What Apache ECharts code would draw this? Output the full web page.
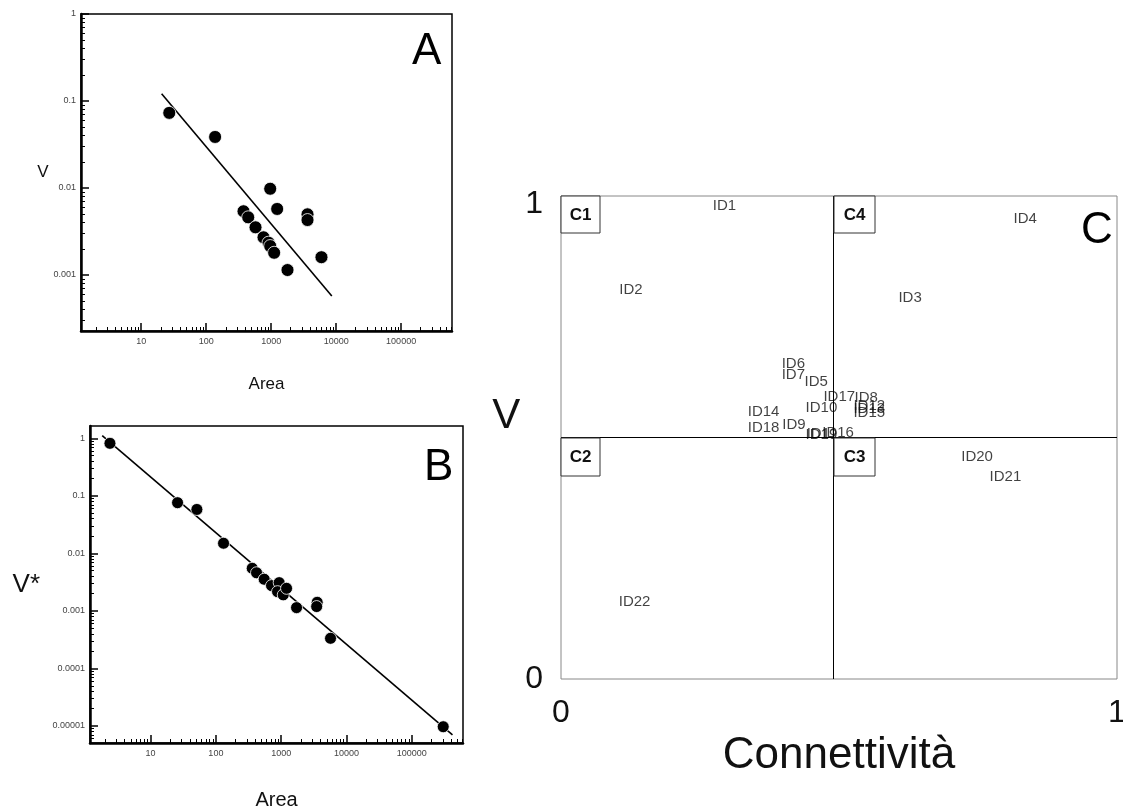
<!DOCTYPE html>
<html>
<head>
<meta charset="utf-8">
<script src="https://cdn.jsdelivr.net/npm/echarts@6/dist/echarts.min.js"></script>
<style>
html, body { margin: 0; padding: 0; background: #fff; }
#main { width: 1123px; height: 812px; }
</style>
</head>
<body>
<div id="main"></div>
<script>
// pannello A: V contro Area (log-log)
const areaA = [27, 137, 966, 1236, 3623, 3623, 375, 443, 574, 762, 910, 966, 1111, 1783, 5940];
const vA = [0.073, 0.0386, 0.0098, 0.00574, 0.00498, 0.00428, 0.0054, 0.0046, 0.00353, 0.00271, 0.00235, 0.00215, 0.0018, 0.00114, 0.0016];
const fitAreaA = [20.6, 8570];
const fitVA = [0.121, 0.000574];

// pannello B: V* contro Area
const areaB = [2.39, 25.9, 51.2, 131, 360, 419, 549, 711, 931, 879, 1074, 1208, 1718, 3556, 3490, 5690, 302000];
const vB = [0.818, 0.076, 0.058, 0.015, 0.0055, 0.0046, 0.00355, 0.00275, 0.0031, 0.00216, 0.0019, 0.00247, 0.00114, 0.00141, 0.00119, 0.000334, 0.0000097];
const fitAreaB = [1.82, 419000];
const fitVB = [1.11, 0.00000698];

// pannello C: V contro Connettività
const idNames = ['ID1', 'ID2', 'ID3', 'ID4', 'ID5', 'ID6', 'ID7', 'ID8', 'ID9', 'ID10', 'ID11',
  'ID12', 'ID13', 'ID14', 'ID15', 'ID16', 'ID17', 'ID18', 'ID19', 'ID20', 'ID21', 'ID22'];
const connettivita = [0.272, 0.104, 0.606, 0.813, 0.437, 0.396, 0.396, 0.527, 0.397, 0.439, 0.441,
  0.525, 0.525, 0.335, 0.525, 0.469, 0.471, 0.335, 0.439, 0.719, 0.770, 0.103];
const vC = [0.979, 0.805, 0.789, 0.952, 0.615, 0.652, 0.629, 0.582, 0.526, 0.561, 0.507,
  0.565, 0.559, 0.553, 0.551, 0.509, 0.584, 0.520, 0.505, 0.460, 0.418, 0.159];
// soglie dei quadranti
const sogliaConn = 0.491;
const sogliaV = 0.5;

// estremi degli assi (in log10)
const xLogRange = [0.073, 5.783];
const yLogRangeA = [-3.644, 0];
const yLogRangeB = [-5.296, 0.214];

const chartDom = document.getElementById('main');
const myChart = echarts.init(chartDom, null, { renderer: 'canvas' });

const font = 'Liberation Sans';

// tacche minori 2..9 per ogni decade
function minorTicks(range) {
  const out = [];
  for (let d = Math.floor(range[0]); d <= Math.ceil(range[1]); d++) {
    for (let k = 2; k <= 9; k++) {
      const v = d + Math.log10(k);
      if (v > range[0] && v < range[1]) out.push(v);
    }
  }
  return out;
}

function fmt(v) {
  return String(Number(v.toPrecision(3)));
}

function logAxis(gridIndex, range, name, nameGap, nameSize, isY, showMax) {
  return {
    type: 'log',
    logBase: 10,
    gridIndex: gridIndex,
    position: isY ? 'left' : 'bottom',
    min: Math.pow(10, range[0]),
    max: Math.pow(10, range[1]),
    name: name,
    nameLocation: 'middle',
    nameRotate: 0,
    nameGap: nameGap,
    nameTextStyle: { fontFamily: font, fontSize: nameSize, color: '#111' },
    axisLine: { show: true, onZero: false, lineStyle: { color: '#000', width: 2.5 } },
    axisTick: { show: true, inside: true, length: 8, lineStyle: { color: '#000', width: 1.5 } },
    minorTick: { show: false },
    splitLine: { show: false },
    axisLabel: {
      show: true,
      fontFamily: font,
      fontSize: 9,
      color: '#444',
      margin: isY ? 5 : 6,
      showMinLabel: false,
      showMaxLabel: showMax,
      formatter: fmt
    }
  };
}

function minorAxis(gridIndex, range, isY) {
  return {
    type: 'value',
    gridIndex: gridIndex,
    position: isY ? 'left' : 'bottom',
    min: range[0],
    max: range[1],
    axisLine: { show: false, onZero: false },
    axisLabel: { show: false },
    splitLine: { show: false },
    axisTick: {
      show: true,
      inside: true,
      length: 4,
      customValues: minorTicks(range),
      lineStyle: { color: '#000', width: 1 }
    }
  };
}

function pairs(xs, ys) {
  return xs.map((x, i) => [x, ys[i]]);
}

const gA = { left: 81, top: 14, width: 371, height: 317 };
const gB = { left: 90, top: 426, width: 373, height: 317 };
const gC = { left: 561, top: 196, width: 556, height: 483 };

const frame = { show: true, borderColor: '#000', borderWidth: 1.5, backgroundColor: 'transparent', outerBoundsMode: 'none' };

const letterStyle = { fontFamily: font, fontSize: 44, fontWeight: 'normal', color: '#000' };

const option = {
  backgroundColor: '#fff',
  animation: false,
  title: [
    { text: 'A', left: 412, top: 30, padding: 0, textStyle: letterStyle },
    { text: 'B', left: 424, top: 446, padding: 0, textStyle: letterStyle },
    { text: 'C', left: 1081, top: 209, padding: 0, textStyle: letterStyle }
  ],
  grid: [
    Object.assign({}, gA, frame),
    Object.assign({}, gA, { show: false, outerBoundsMode: 'none' }),
    Object.assign({}, gB, frame),
    Object.assign({}, gB, { show: false, outerBoundsMode: 'none' }),
    Object.assign({}, gC, { show: true, borderColor: '#888', borderWidth: 1, outerBoundsMode: 'none' })
  ],
  xAxis: [
    logAxis(0, xLogRange, 'Area', 45, 17, false, false),
    minorAxis(1, xLogRange, false),
    logAxis(2, xLogRange, 'Area', 47, 20, false, false),
    minorAxis(3, xLogRange, false),
    {
      type: 'value', gridIndex: 4, position: 'bottom', min: 0, max: 1, interval: 1,
      name: 'Connettività', nameLocation: 'middle', nameGap: 45,
      nameTextStyle: { fontFamily: font, fontSize: 44, color: '#111' },
      axisLine: { show: false }, axisTick: { show: false }, splitLine: { show: false },
      axisLabel: { fontFamily: font, fontSize: 32, color: '#111', margin: 18 }
    }
  ],
  yAxis: [
    logAxis(0, yLogRangeA, 'V', 31, 17, true, true),
    minorAxis(1, yLogRangeA, true),
    logAxis(2, yLogRangeB, 'V*', 50, 26, true, false),
    minorAxis(3, yLogRangeB, true),
    {
      type: 'value', gridIndex: 4, position: 'left', min: 0, max: 1, interval: 1,
      name: 'V', nameLocation: 'middle', nameRotate: 0, nameGap: 36,
      nameTextStyle: { fontFamily: font, fontSize: 42, color: '#111', verticalAlign: 'bottom' },
      axisLine: { show: false }, axisTick: { show: false }, splitLine: { show: false },
      axisLabel: {
        fontFamily: font, fontSize: 32, color: '#111', margin: 18,
        formatter: v => (v === 1 ? '{alto|1}' : '{basso|0}'),
        rich: {
          alto: { fontFamily: font, fontSize: 32, color: '#111', padding: [16, 0, 0, 0] },
          basso: { fontFamily: font, fontSize: 32, color: '#111' }
        }
      }
    }
  ],
  graphic: [
    { type: 'rect', z: 100, shape: { x: 561, y: 196, width: 39, height: 37 }, style: { fill: '#fff', stroke: '#333', lineWidth: 1 } },
    { type: 'text', z: 101, x: 580.5, y: 215, style: { text: 'C1', font: 'bold 17px "Liberation Sans"', align: 'center', verticalAlign: 'middle', fill: '#111' } },
    { type: 'rect', z: 100, shape: { x: 834, y: 196, width: 41, height: 37 }, style: { fill: '#fff', stroke: '#333', lineWidth: 1 } },
    { type: 'text', z: 101, x: 854.5, y: 215, style: { text: 'C4', font: 'bold 17px "Liberation Sans"', align: 'center', verticalAlign: 'middle', fill: '#111' } },
    { type: 'rect', z: 100, shape: { x: 561, y: 438, width: 39, height: 38 }, style: { fill: '#fff', stroke: '#333', lineWidth: 1 } },
    { type: 'text', z: 101, x: 580.5, y: 457, style: { text: 'C2', font: 'bold 17px "Liberation Sans"', align: 'center', verticalAlign: 'middle', fill: '#111' } },
    { type: 'rect', z: 100, shape: { x: 834, y: 438, width: 41, height: 38 }, style: { fill: '#fff', stroke: '#333', lineWidth: 1 } },
    { type: 'text', z: 101, x: 854.5, y: 457, style: { text: 'C3', font: 'bold 17px "Liberation Sans"', align: 'center', verticalAlign: 'middle', fill: '#111' } }
  ],
  series: [
    {
      type: 'line', xAxisIndex: 0, yAxisIndex: 0,
      data: pairs(fitAreaA, fitVA), showSymbol: false, silent: true,
      lineStyle: { color: '#000', width: 1.6 }, z: 2
    },
    {
      type: 'scatter', xAxisIndex: 0, yAxisIndex: 0,
      data: pairs(areaA, vA), symbolSize: 13,
      itemStyle: { color: '#000', borderColor: '#fff', borderWidth: 0.8, opacity: 1 }, z: 3
    },
    {
      type: 'line', xAxisIndex: 2, yAxisIndex: 2,
      data: pairs(fitAreaB, fitVB), showSymbol: false, silent: true,
      lineStyle: { color: '#000', width: 1.6 }, z: 2
    },
    {
      type: 'scatter', xAxisIndex: 2, yAxisIndex: 2,
      data: pairs(areaB, vB), symbolSize: 12,
      itemStyle: { color: '#000', borderColor: '#fff', borderWidth: 0.8, opacity: 1 }, z: 3
    },
    {
      type: 'scatter', xAxisIndex: 4, yAxisIndex: 4,
      data: idNames.map((n, i) => ({ name: n, value: [connettivita[i], vC[i]] })),
      symbolSize: 1,
      itemStyle: { color: 'rgba(0,0,0,0)' },
      label: {
        show: true, position: 'right', distance: 0, formatter: '{b}',
        fontFamily: font, fontSize: 15, color: '#111'
      },
      markLine: {
        silent: true, symbol: 'none', animation: false,
        label: { show: false },
        lineStyle: { color: '#000', width: 1, type: 'solid' },
        data: [{ xAxis: sogliaConn }, { yAxis: sogliaV }]
      }
    }
  ]
};

option && myChart.setOption(option);
</script>
</body>
</html>
